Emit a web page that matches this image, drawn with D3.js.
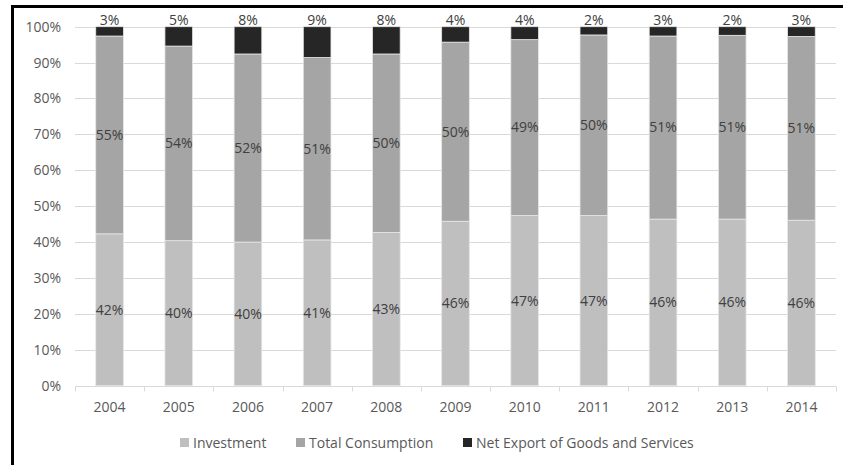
<!DOCTYPE html>
<html>
<head>
<meta charset="utf-8">
<script src="https://cdn.jsdelivr.net/npm/d3@7"></script>
<style>
  html, body { margin: 0; padding: 0; background: #fff; }
  svg { display: block; }
  text { font-family: "Open Sans", "Noto Sans", sans-serif; }
</style>
</head>
<body>
<svg id="chart" width="843" height="465"></svg>
<script>
const years = ["2004","2005","2006","2007","2008","2009","2010","2011","2012","2013","2014"];
const investment  = [42.3, 40.4, 40.0, 40.6, 42.7, 45.8, 47.4, 47.4, 46.4, 46.4, 46.1];
const consumption = [55.1, 54.2, 52.4, 50.8, 49.7, 49.9, 49.0, 50.3, 51.0, 51.2, 51.2];
const netExport   = [2.6, 5.4, 7.6, 8.6, 7.6, 4.3, 3.6, 2.3, 2.6, 2.4, 2.7];
const seriesNames = ["Investment", "Total Consumption", "Net Export of Goods and Services"];
const yTicks = [0, 10, 20, 30, 40, 50, 60, 70, 80, 90, 100];

const colors = ["#bfbfbf", "#a5a5a5", "#262626"];
const svg = d3.select("#chart");

// frame border (top and left visible)
svg.append("line").attr("x1", 11).attr("x2", 843).attr("y1", 6.5).attr("y2", 6.5)
  .attr("stroke", "#000").attr("stroke-width", 3);
svg.append("line").attr("x1", 12.5).attr("x2", 12.5).attr("y1", 5).attr("y2", 465)
  .attr("stroke", "#000").attr("stroke-width", 3);

const plotL = 75, plotR = 836, plotT = 26.7, plotB = 385.7;

const x = d3.scaleBand().domain(years).range([plotL, plotR]).paddingInner(0.6).paddingOuter(0.3);
const y = d3.scaleLinear().domain([0, 100]).range([plotB, plotT]);

// gridlines
svg.append("g").selectAll("line").data(yTicks.filter(d => d > 0)).join("line")
  .attr("x1", plotL).attr("x2", plotR)
  .attr("y1", d => Math.round(y(d)) + 0.5).attr("y2", d => Math.round(y(d)) + 0.5)
  .attr("stroke", "#d9d9d9").attr("stroke-width", 1);

// y tick labels
svg.append("g").selectAll("text").data(yTicks).join("text")
  .attr("x", 61).attr("y", d => y(d)).attr("dy", "0.35em")
  .attr("text-anchor", "end").attr("font-size", 14).attr("fill", "#595959")
  .text(d => d + "%");

// stack
const table = years.map((yr, i) => ({ year: yr, s0: investment[i], s1: consumption[i], s2: netExport[i] }));
const stack = d3.stack().keys(["s0", "s1", "s2"])(table);

const layers = svg.append("g").selectAll("g").data(stack).join("g")
  .attr("fill", (d, i) => colors[i]);
layers.selectAll("rect").data(d => d).join("rect")
  .attr("x", d => x(d.data.year))
  .attr("width", x.bandwidth())
  .attr("y", d => y(d[1]))
  .attr("height", d => y(d[0]) - y(d[1]))
  .attr("stroke", "#e6e6e6").attr("stroke-width", 0.8);

// x axis line and ticks
const axisY = Math.round(plotB) + 0.5;
svg.append("line").attr("x1", plotL).attr("x2", plotR).attr("y1", axisY).attr("y2", axisY)
  .attr("stroke", "#d9d9d9").attr("stroke-width", 1);
const boundaries = years.map(yr => x(yr) - x.step() * x.paddingInner() / 2).concat([plotR]);
svg.append("g").selectAll("line").data(boundaries).join("line")
  .attr("x1", d => Math.round(d) + 0.5).attr("x2", d => Math.round(d) + 0.5)
  .attr("y1", axisY).attr("y2", axisY + 5)
  .attr("stroke", "#d9d9d9").attr("stroke-width", 1);

// x labels
svg.append("g").selectAll("text").data(years).join("text")
  .attr("x", d => x(d) + x.bandwidth() / 2).attr("y", 407).attr("dy", "0.35em")
  .attr("text-anchor", "middle").attr("font-size", 14).attr("fill", "#595959")
  .text(d => d);

// data labels
const lab = svg.append("g").attr("font-size", 14).attr("fill", "#404040").attr("text-anchor", "middle");
stack.forEach((layer, li) => {
  lab.selectAll(null).data(layer).join("text")
    .attr("x", d => x(d.data.year) + x.bandwidth() / 2)
    .attr("y", d => li < 2 ? (y(d[0]) + y(d[1])) / 2 : y(d[1]) - 7)
    .attr("dy", "0.35em")
    .text(d => Math.round(d[1] - d[0]) + "%");
});

// legend
const legendX = [180, 296, 463];
const lg = svg.append("g");
seriesNames.forEach((name, i) => {
  lg.append("rect").attr("x", legendX[i]).attr("y", 438).attr("width", 9).attr("height", 9)
    .attr("fill", colors[i]);
  lg.append("text").attr("x", legendX[i] + 13).attr("y", 442.7).attr("dy", "0.35em")
    .attr("font-size", 14).attr("fill", "#595959").text(name);
});
</script>
</body>
</html>
